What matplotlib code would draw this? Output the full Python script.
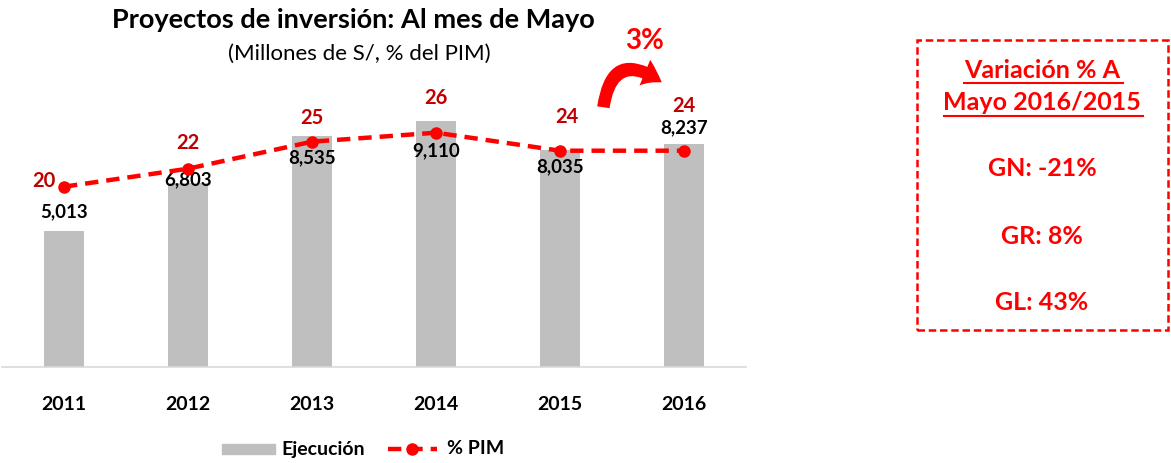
import matplotlib
matplotlib.use("Agg")
import matplotlib.pyplot as plt
from matplotlib.patches import FancyArrowPatch, Rectangle

plt.rcParams['font.family'] = ['Lato', 'DejaVu Sans']

years = ['2011', '2012', '2013', '2014', '2015', '2016']
ejecucion = [5013, 6803, 8535, 9110, 8035, 8237]
pim = [20, 22, 25, 26, 24, 24]
bar_label_dy = [20, 3, -21, -30, -17, 17]
pim_label_dx = [-20, 0, 0, 0, 7, 0]
pim_label_dy = [6, 26, 24, 35, 34, 45]

W, H = 1171, 463
fig = plt.figure(figsize=(W / 100, H / 100), dpi=100)

def fx(px):
    return px / W

def fy(py):
    return 1 - py / H

ax = fig.add_axes([fx(2), fy(366.7), fx(744), 270 / H])
x = list(range(len(years)))
ax.bar(x, ejecucion, width=0.32, color='#BFBFBF', zorder=1)
ax.set_xlim(-0.5, len(years) - 0.5)
ax.set_ylim(0, 10000)
for s in ['top', 'right', 'left']:
    ax.spines[s].set_visible(False)
ax.spines['bottom'].set_color('#D9D9D9')
ax.spines['bottom'].set_linewidth(1.2)
ax.set_yticks([])
ax.set_xticks(x)
ax.set_xticklabels(years, fontsize=14, fontweight='bold', color='black')
ax.tick_params(axis='x', length=0, pad=21)

ax2 = ax.twinx()
ax2.set_ylim(0, 30)
ax2.set_yticks([])
for s in ['top', 'right', 'left', 'bottom']:
    ax2.spines[s].set_visible(False)
ax2.plot(x, pim, color='#FF0000', lw=3.2, ls=(0, (3, 1.8)), marker='o',
         markersize=8, zorder=3)

for i, v in enumerate(ejecucion):
    ax.annotate(f"{v:,}", (i, v), xytext=(0, bar_label_dy[i]), textcoords='offset pixels',
                ha='center', va='center', fontsize=13.5, fontweight='bold', color='black',
                annotation_clip=False, zorder=10)
for i, v in enumerate(pim):
    ax2.annotate(f"{v}", (i, v), xytext=(pim_label_dx[i], pim_label_dy[i]), textcoords='offset pixels',
                 ha='center', va='center', fontsize=14.5, fontweight='bold', color='#C00000', zorder=5)

# Title
fig.text(fx(353), fy(20), 'Proyectos de inversión: Al mes de Mayo', ha='center', va='center',
         fontsize=19.5, fontweight='bold', color='black')
fig.text(fx(359), fy(54), '(Millones de S/, % del PIM)', ha='center', va='center',
         fontsize=16, color='black')

# 3% and curved arrow
fig.text(fx(645), fy(41), '3%', ha='center', va='center', fontsize=20, fontweight='bold', color='#FF0000')
arrow = FancyArrowPatch((fx(603), fy(110)), (fx(664), fy(84)), transform=fig.transFigure,
                        connectionstyle='arc3,rad=-0.85',
                        arrowstyle='simple,head_length=14,head_width=20,tail_width=9',
                        color='#FF0000', lw=0)
fig.patches.append(arrow)

# Legend
fig.patches.append(Rectangle((fx(222), fy(454)), fx(53), 10 / H, transform=fig.transFigure,
                             color='#BFBFBF'))
fig.text(fx(281), fy(449), 'Ejecución', ha='left', va='center', fontsize=14, fontweight='bold')
fig.lines.append(plt.Line2D([fx(388), fx(437)], [fy(449), fy(449)], transform=fig.transFigure,
                            color='#FF0000', lw=3.2, ls=(0, (3, 1.8))))
fig.lines.append(plt.Line2D([fx(412)], [fy(449)], transform=fig.transFigure, marker='o',
                            markersize=8, color='#FF0000'))
fig.text(fx(447), fy(449), '% PIM', ha='left', va='center', fontsize=14, fontweight='bold')

# Box
fig.patches.append(Rectangle((fx(917), fy(330)), fx(251), 290 / H, transform=fig.transFigure,
                             fill=False, edgecolor='#FF0000', lw=1.8, ls=(0, (3, 1.5))))
bx = fx(1042)
fig.text(bx, fy(70), 'Variación % A', ha='center', va='center', fontsize=18,
         fontweight='bold', color='#FF0000')
fig.text(bx, fy(102), 'Mayo 2016/2015', ha='center', va='center', fontsize=18,
         fontweight='bold', color='#FF0000')
fig.lines.append(plt.Line2D([fx(964), fx(1123)], [fy(83), fy(83)], transform=fig.transFigure,
                            color='#FF0000', lw=1.5))
fig.lines.append(plt.Line2D([fx(944), fx(1143)], [fy(116), fy(116)], transform=fig.transFigure,
                            color='#FF0000', lw=1.5))
fig.text(bx, fy(169), 'GN: -21%', ha='center', va='center', fontsize=18, fontweight='bold', color='#FF0000')
fig.text(bx, fy(236), 'GR: 8%', ha='center', va='center', fontsize=18, fontweight='bold', color='#FF0000')
fig.text(bx, fy(302), 'GL: 43%', ha='center', va='center', fontsize=18, fontweight='bold', color='#FF0000')

fig.savefig('out.png', dpi=100)
